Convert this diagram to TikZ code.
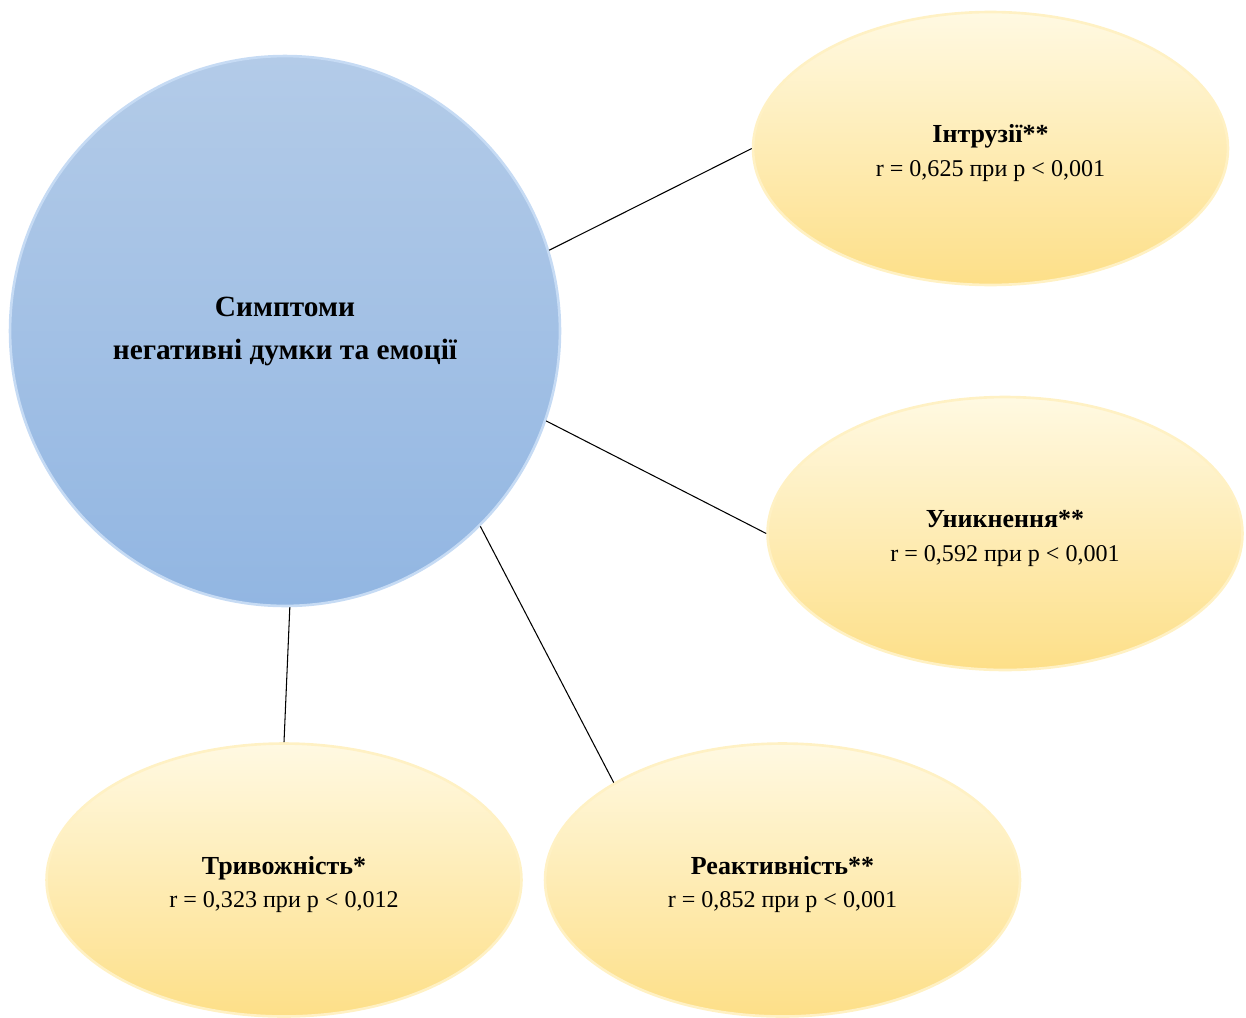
\documentclass[tikz,border=0pt]{standalone}
\usepackage{fontspec}
\setmainfont{Liberation Serif}
\usetikzlibrary{positioning,shapes.geometric}

\definecolor{bluetop}{HTML}{B3CBE8}
\definecolor{bluebot}{HTML}{92B6E2}
\definecolor{blueedge}{HTML}{C6DBF4}
\definecolor{goldtop}{HTML}{FFF9E2}
\definecolor{goldbot}{HTML}{FDDF88}
\definecolor{goldedge}{HTML}{FFF1C4}

\newcommand{\ovtitle}[1]{\rule{0pt}{15.5pt}{\fontsize{14.8}{19}\selectfont\bfseries #1}}

\begin{document}
\begin{tikzpicture}[
    x=0.02cm, y=-0.02cm,
    circ/.style={circle, minimum size=11cm, inner sep=0pt, align=center,
        top color=bluetop, bottom color=bluebot, draw=blueedge, line width=1.5pt,
        font=\fontsize{16.7}{24.5}\selectfont\bfseries},
    oval/.style={ellipse, minimum width=9.5cm, minimum height=5.46cm, inner sep=0pt, align=center,
        top color=goldtop, bottom color=goldbot, draw=goldedge, line width=1.5pt,
        font=\fontsize{13.7}{19}\selectfont},
    link/.style={black, line width=0.6pt}
]
    \useasboundingbox (0,0) rectangle (1246,1017);

    \node[circ] (sympt) at (285,331) {Симптоми\\негативні думки та емоції};

    % correlations
    \node[oval] (intr)  at (990.5,148.5) {\ovtitle{Інтрузії**}\\r = 0,625 при p < 0,001};
    \node[oval] (avoid) at (1005,533.5)  {\ovtitle{Уникнення**}\\r = 0,592 при p < 0,001};
    \node[oval] (react) at (782.5,880)   {\ovtitle{Реактивність**}\\r = 0,852 при p < 0,001};
    \node[oval] (anx)   at (284,880)     {\ovtitle{Тривожність*}\\r = 0,323 при p < 0,012};

    \draw[link] (sympt.17.6) -- (intr.west);
    \draw[link] (sympt.-19.1) -- (avoid.west);
    \draw[link] (sympt.-45.3) -- (react.150.4);
    \draw[link] (sympt.-89.6) -- (anx.north);
\end{tikzpicture}
\end{document}
